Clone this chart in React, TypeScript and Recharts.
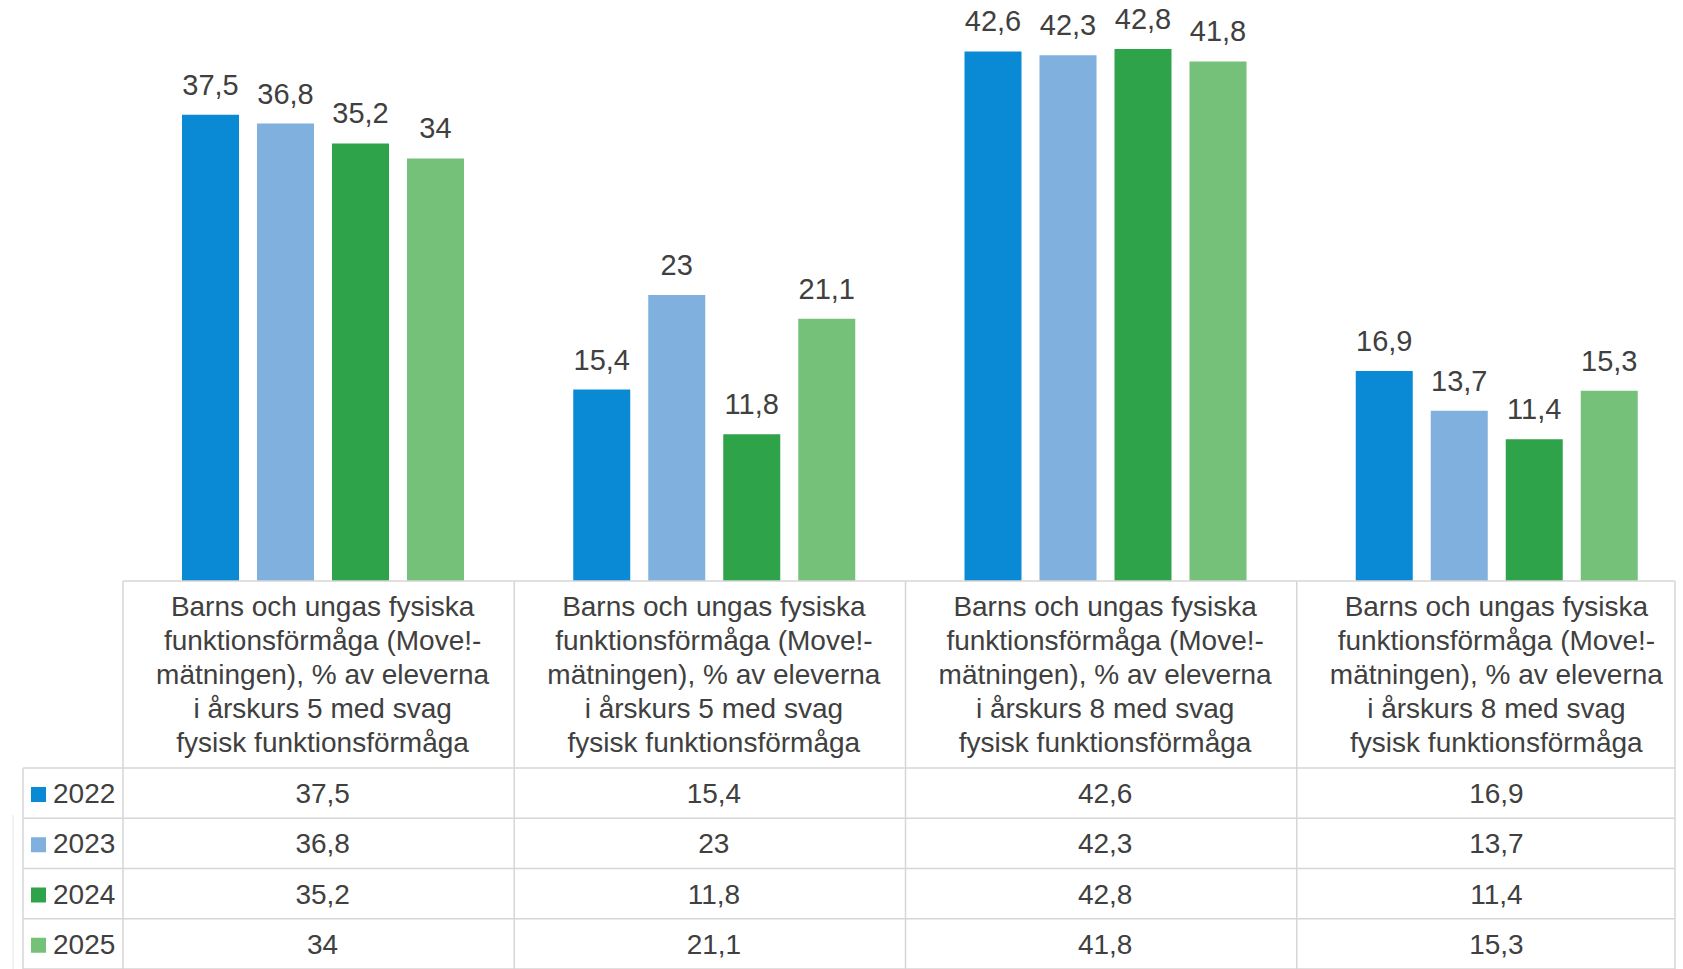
import React from 'react';
import { BarChart, Bar, XAxis, YAxis, LabelList } from 'recharts';

const categoryIds = ['c1', 'c2', 'c3', 'c4'];
const categoryLines = [
  ['Barns och ungas fysiska', 'funktionsförmåga (Move!-', 'mätningen), % av eleverna', 'i årskurs 5 med svag', 'fysisk funktionsförmåga'],
  ['Barns och ungas fysiska', 'funktionsförmåga (Move!-', 'mätningen), % av eleverna', 'i årskurs 5 med svag', 'fysisk funktionsförmåga'],
  ['Barns och ungas fysiska', 'funktionsförmåga (Move!-', 'mätningen), % av eleverna', 'i årskurs 8 med svag', 'fysisk funktionsförmåga'],
  ['Barns och ungas fysiska', 'funktionsförmåga (Move!-', 'mätningen), % av eleverna', 'i årskurs 8 med svag', 'fysisk funktionsförmåga'],
];
const seriesNames = ['2022', '2023', '2024', '2025'];
const values2022 = [37.5, 15.4, 42.6, 16.9];
const values2023 = [36.8, 23, 42.3, 13.7];
const values2024 = [35.2, 11.8, 42.8, 11.4];
const values2025 = [34, 21.1, 41.8, 15.3];
const seriesValues = [values2022, values2023, values2024, values2025];
const seriesColors = ['#0a89d4', '#7fb0de', '#2ea349', '#75c17a'];

const data = categoryIds.map((id, i) => {
  const row: Record<string, any> = { id };
  seriesNames.forEach((s, k) => {
    row[s] = seriesValues[k][i];
  });
  return row;
});

const fmt = (v: any) => String(v).replace('.', ',');

const FONT = '"Liberation Sans", Arial, sans-serif';
const TEXT = '#404040';
const GRID = '#d6d6d6';
const W = 1683;
const H = 969;
const HEADER_H = 187;
const ROW_H = 50.25;

const TableTick = (props: any) => {
  const { x, y, payload } = props;
  const idx = payload.index;
  const band = payload.offset ? payload.offset * 2 : 391;
  const half = band / 2;
  const left = x - half - 4;
  const right = Math.min(x + half - 4, W - 8);
  const headerBottom = y + HEADER_H;
  const lines = categoryLines[idx] || [];
  const rowLines = [0, 1, 2, 3, 4].map((r) => headerBottom + r * ROW_H);
  const legendLeft = 23;
  return (
    <g fontFamily={FONT}>
      <line x1={left} x2={left} y1={y} y2={H} stroke={GRID} strokeWidth={1.5} />
      {idx === categoryIds.length - 1 && (
        <line x1={right} x2={right} y1={y} y2={H} stroke={GRID} strokeWidth={1.5} />
      )}
      <line x1={left} x2={right} y1={y} y2={y} stroke={GRID} strokeWidth={1.5} />
      {rowLines.map((ry, r) => (
        <line key={r} x1={left} x2={right} y1={ry} y2={ry} stroke={GRID} strokeWidth={1.5} />
      ))}
      {lines.map((t, li) => (
        <text key={li} x={x} y={y + 35 + li * 34} textAnchor="middle" fontSize={28} fill={TEXT}>
          {t}
        </text>
      ))}
      {seriesValues.map((vals, r) => (
        <text key={r} x={x} y={headerBottom + r * ROW_H + 35} textAnchor="middle" fontSize={28} fill={TEXT}>
          {fmt(vals[idx])}
        </text>
      ))}
      {idx === 0 && (
        <g>
          <line x1={legendLeft} x2={legendLeft} y1={headerBottom} y2={H} stroke={GRID} strokeWidth={1.5} />
          <line x1={13} x2={13} y1={815} y2={H} stroke="#e6e6e6" strokeWidth={1} />
          {rowLines.map((ry, r) => (
            <line key={r} x1={legendLeft} x2={left} y1={ry} y2={ry} stroke={GRID} strokeWidth={1.5} />
          ))}
          {seriesNames.map((s, r) => (
            <g key={s}>
              <rect x={31} y={headerBottom + r * ROW_H + 19} width={15} height={15} fill={seriesColors[r]} />
              <text x={53} y={headerBottom + r * ROW_H + 35} fontSize={28} fill={TEXT}>
                {s}
              </text>
            </g>
          ))}
        </g>
      )}
    </g>
  );
};

export default function App() {
  return (
    <div style={{ position: 'absolute', left: 0, top: 0, width: W, height: H, background: '#ffffff', fontFamily: FONT }}>
      <BarChart
        width={W}
        height={H}
        data={data}
        margin={{ top: 3, right: 0, left: 127, bottom: 0 }}
        barGap={18}
        barCategoryGap={0}
      >
        <XAxis
          dataKey="id"
          height={388}
          axisLine={false}
          tickLine={false}
          tickSize={0}
          tickMargin={0}
          interval={0}
          padding={{ left: 0, right: -9 }}
          tick={(p: any) => <TableTick {...p} />}
        />
        <YAxis hide domain={[0, 46.5]} />
        {seriesNames.map((s, k) => (
          <Bar key={s} dataKey={s} fill={seriesColors[k]} barSize={57} isAnimationActive={false}>
            <LabelList
              dataKey={s}
              position="top"
              offset={20}
              formatter={fmt}
              fill={TEXT}
              fontSize={29}
              fontFamily={FONT}
            />
          </Bar>
        ))}
      </BarChart>
    </div>
  );
}
